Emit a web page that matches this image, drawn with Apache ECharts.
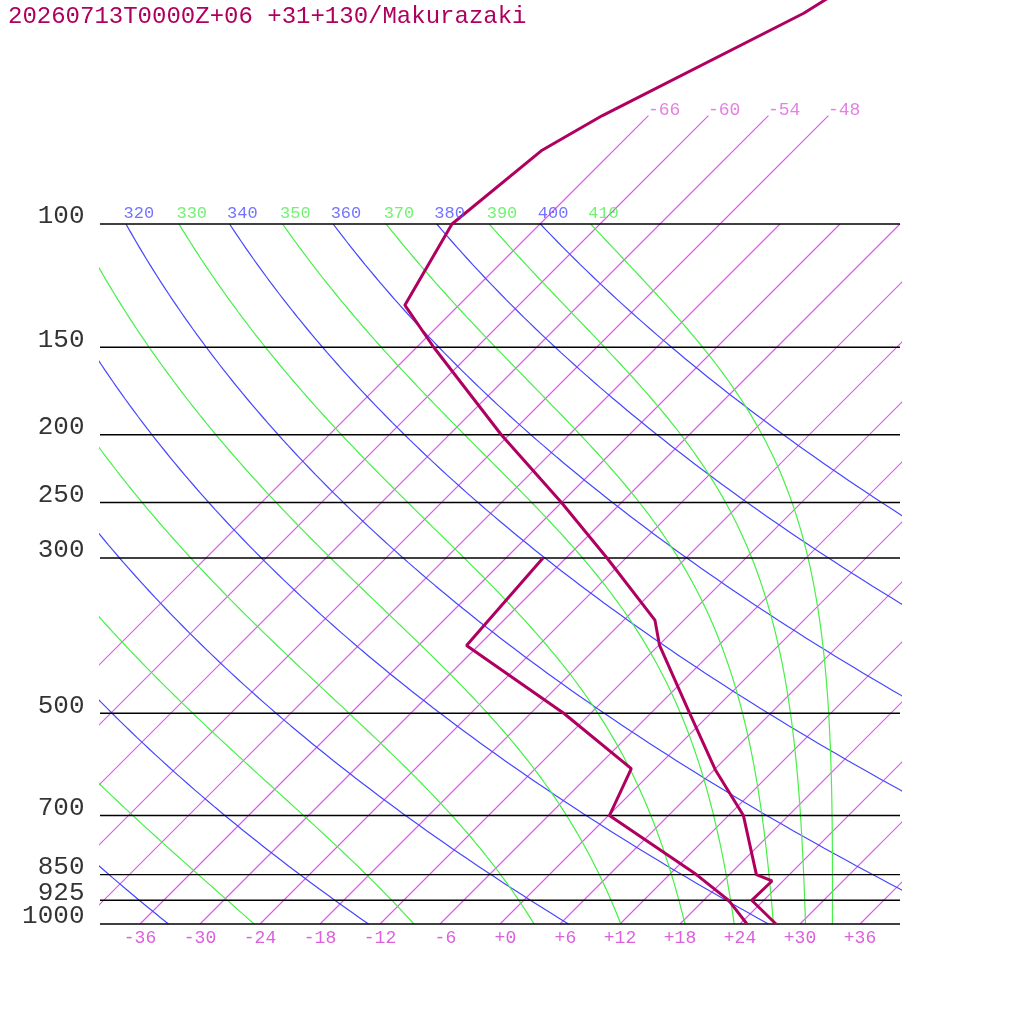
<!DOCTYPE html>
<html><head><meta charset="utf-8">
<script src="https://cdn.jsdelivr.net/npm/echarts@6/dist/echarts.min.js"></script>
<style>html,body{margin:0;padding:0;background:#fff}#c{width:1024px;height:1024px}</style>
</head><body><div id="c"></div>
<script>
// ---- data ----
const TITLE = '20260713T0000Z+06 +31+130/Makurazaki';
const pressureLevels = [100, 150, 200, 250, 300, 500, 700, 850, 925, 1000];
const tempP = [30, 50, 70, 78.6, 100, 130.6, 150, 200, 250, 300, 368, 400, 500, 602, 700, 850, 868, 925, 1000];
const tempC = [-51.4, -60.7, -70.6, -73.2, -74.8, -71.4, -64.3, -48.8, -36.0, -25.9, -14.9, -11.9, -2.1, 6.1, 13.5, 20.7, 22.9, 22.8, 27.6];
const dewP = [300, 400, 500, 600, 700, 850, 925, 1000];
const dewC = [-32.3, -31.2, -14.7, -2.4, 0.1, 14.7, 20.5, 24.7];
const isotherms = [-66, -60, -54, -48, -42, -36, -30, -24, -18, -12, -6, 0, 6, 12, 18, 24, 30, 36];
const isothermTopLabels = [-66, -60, -54, -48];
const dryTheta = [240, 260, 280, 300, 320, 340, 360, 380, 400];
const moistThetaE = [250, 270, 290, 310, 330, 350, 370, 390, 410];
const xTicks = [-36, -30, -24, -18, -12, -6, 0, 6, 12, 18, 24, 30, 36];

// ---- diagram geometry / physics (skew-T reference lines) ----
const SKEW = 70;           // deg C of skew per decade of pressure
const P_TOP_ISO = 70;      // top of extended isotherms
function skewX(T, p) { return T + SKEW * Math.log10(1000 / p); }
const curveP = [];
for (let i = 0; i <= 120; i++) curveP.push(1000 * Math.pow(10, -i / 120));
function dryT(theta, p) { return theta * Math.pow(p / 1000, 0.2857) - 273.15; }
function thetaE(Tc, p) {
  const TK = Tc + 273.15;
  const es = 6.112 * Math.exp(17.67 * Tc / (Tc + 243.5));
  const r = 622 * es / (p - es);
  return TK * Math.pow(1000 / p, 0.2854 * (1 - 0.00028 * r)) *
    Math.exp((3.376 / TK - 0.00254) * r * (1 + 0.00081 * r));
}
function moistT(te, p) {
  let lo = -150, hi = 40;
  for (let k = 0; k < 60; k++) {
    const m = (lo + hi) / 2;
    if (thetaE(m, p) > te) hi = m; else lo = m;
  }
  return (lo + hi) / 2;
}

const COL_PROFILE = '#b0005f';
const COL_ISO = '#dd55ee';
const COL_ISO_LBL = '#dd5fdd';
const COL_BLUE = '#4646ff';
const COL_GREEN = '#46f046';
const FONT = 'Liberation Mono';

const series = [];
function lineSeries(data, color, width, clip, z) {
  return { type: 'line', data, symbol: 'none', showSymbol: false, silent: true, animation: false, clip,
    color: color, itemStyle: { color: color },
    lineStyle: { color: color, width: width, opacity: 1 }, z: z || 2 };
}
// isotherms
isotherms.forEach(T => {
  series.push(lineSeries([[skewX(T, 1000), 1000], [skewX(T, 100), 100]], COL_ISO, 1.1, true, 2));
});
isothermTopLabels.forEach(T => {
  series.push(lineSeries([[skewX(T, 100), 100], [skewX(T, P_TOP_ISO), P_TOP_ISO]], COL_ISO, 1.1, false, 2));
});
// dry adiabats
const thetaLabelData = [];
dryTheta.forEach(th => {
  series.push(lineSeries(curveP.map(p => [skewX(dryT(th, p), p), p]), COL_BLUE, 1.2, true, 2));
  thetaLabelData.push({ value: [skewX(dryT(th, 100), 100), 100], name: String(th), label: { color: '#5050ff' } });
});
// pseudo-adiabats
moistThetaE.forEach(te => {
  series.push(lineSeries(curveP.map(p => [skewX(moistT(te, p), p), p]), COL_GREEN, 1.2, true, 2));
  thetaLabelData.push({ value: [skewX(moistT(te, 100), 100), 100], name: String(te), label: { color: '#50ee50' } });
});
// pressure lines
pressureLevels.forEach(p => {
  series.push(lineSeries([[-40, p], [40, p]], '#000', 1.4, false, 3));
});
// profiles
series.push(lineSeries(tempP.map((p, i) => [skewX(tempC[i], p), p]), COL_PROFILE, 3, false, 5));
series.push(lineSeries(dewP.map((p, i) => [skewX(dewC[i], p), p]), COL_PROFILE, 3, false, 5));

function labelScatter(data, label) {
  return { type: 'scatter', data, symbolSize: 1, silent: true, animation: false, clip: false,
    itemStyle: { color: 'rgba(0,0,0,0)' }, z: 6,
    label: Object.assign({ show: true, formatter: q => q.name, position: [0, 0], fontFamily: FONT }, label) };
}
// theta labels (only those inside the plot)
series.push(labelScatter(thetaLabelData.filter(d => d.value[0] >= -40),
  { align: 'left', verticalAlign: 'middle', fontSize: 17, lineHeight: 17, offset: [-2, -10] }));
// pressure labels
series.push(labelScatter(pressureLevels.map(p => ({ value: [-40, p], name: String(p) })),
  { align: 'right', verticalAlign: 'middle', fontSize: 26, lineHeight: 26, color: '#000', offset: [-15, -7] }));
// isotherm top labels
series.push(labelScatter(isothermTopLabels.map(T => ({ value: [skewX(T, P_TOP_ISO), P_TOP_ISO], name: '-' + Math.abs(T) })),
  { align: 'left', verticalAlign: 'middle', fontSize: 18, lineHeight: 18, color: COL_ISO_LBL, offset: [0, -5] }));

function fmtTick(v) {
  const s = (v >= 0 ? '+' : '-') + Math.abs(v);
  return s.length < 3 ? ' ' + s : s;
}

const chart = echarts.init(document.getElementById('c'), null, { renderer: 'canvas' });
chart.setOption({
  backgroundColor: '#fff',
  animation: false,
  title: { text: TITLE, left: 8, top: 5, padding: 0,
    textStyle: { fontFamily: FONT, fontSize: 24, lineHeight: 24, fontWeight: 'normal', color: COL_PROFILE } },
  grid: { left: 100, top: 224, width: 800, height: 700, containLabel: false, outerBoundsMode: 'none' },
  xAxis: { type: 'value', min: -40, max: 40,
    axisLine: { show: false }, axisTick: { show: false }, splitLine: { show: false },
    axisLabel: { customValues: xTicks, formatter: fmtTick, fontFamily: FONT, fontSize: 18,
      color: COL_ISO_LBL, margin: 5 } },
  yAxis: { type: 'log', logBase: 10, min: 100, max: 1000, inverse: true,
    axisLine: { show: false }, axisTick: { show: false }, splitLine: { show: false }, axisLabel: { show: false } },
  series
});
</script></body></html>
